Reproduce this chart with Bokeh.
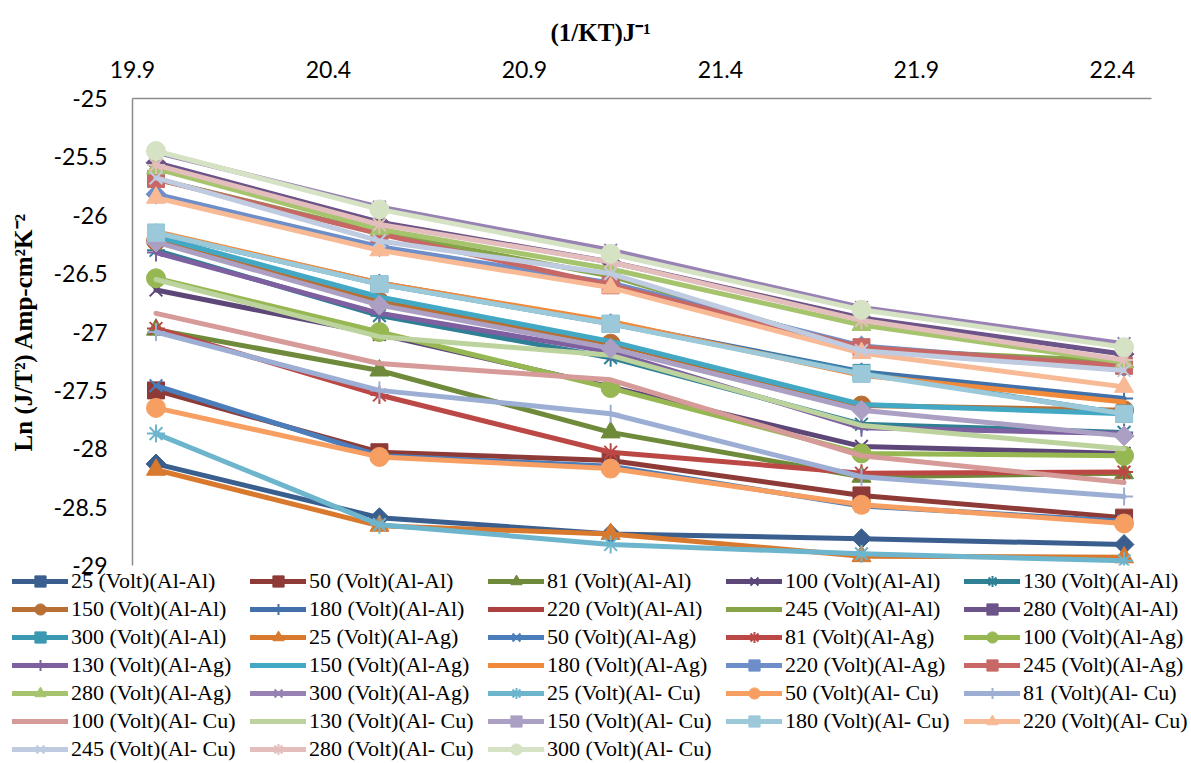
from bokeh.plotting import figure
from bokeh.layouts import column
from bokeh.models import FixedTicker, Legend, LegendItem, Title, Range1d
from bokeh.embed import file_html
from bokeh.resources import INLINE

# ---------------- data ----------------
x_vals = [19.96, 20.53, 21.12, 21.76, 22.43]
x_ticks = [19.9, 20.4, 20.9, 21.4, 21.9, 22.4]
x_tick_labels = ["19.9", "20.4", "20.9", "21.4", "21.9", "22.4"]
y_ticks = [-25.0, -25.5, -26.0, -26.5, -27.0, -27.5, -28.0, -28.5, -29.0]
y_tick_labels = ["-25", "-25.5", "-26", "-26.5", "-27", "-27.5", "-28", "-28.5", "-29"]

al_al_25 = [-28.13, -28.59, -28.73, -28.77, -28.82]
al_al_50 = [-27.50, -28.03, -28.10, -28.40, -28.59]
al_al_81 = [-26.98, -27.33, -27.86, -28.24, -28.21]
al_al_100 = [-26.64, -27.02, -27.47, -27.98, -28.04]
al_al_130 = [-26.30, -26.86, -27.22, -27.79, -27.86]
al_al_150 = [-26.22, -26.74, -27.10, -27.63, -27.67]
al_al_180 = [-26.15, -26.58, -26.92, -27.34, -27.57]
al_al_220 = [-25.83, -26.28, -26.60, -27.15, -27.30]
al_al_245 = [-25.69, -26.15, -26.52, -27.15, -27.25]
al_al_280 = [-25.55, -26.06, -26.40, -26.88, -27.19]
al_al_300 = [-26.15, -26.59, -26.93, -27.35, -27.70]

al_ag_25 = [-28.18, -28.66, -28.73, -28.92, -28.93]
al_ag_50 = [-27.46, -28.06, -28.15, -28.49, -28.62]
al_ag_81 = [-26.97, -27.54, -28.03, -28.21, -28.20]
al_ag_100 = [-26.54, -27.00, -27.48, -28.04, -28.06]
al_ag_130 = [-26.32, -26.84, -27.17, -27.82, -27.87]
al_ag_150 = [-26.18, -26.70, -27.08, -27.62, -27.70]
al_ag_180 = [-26.14, -26.58, -26.91, -27.37, -27.60]
al_ag_220 = [-25.82, -26.27, -26.58, -27.12, -27.30]
al_ag_245 = [-25.69, -26.16, -26.60, -27.13, -27.29]
al_ag_280 = [-25.60, -26.12, -26.46, -26.94, -27.26]
al_ag_300 = [-25.46, -25.93, -26.30, -26.79, -27.10]

al_cu_25 = [-27.87, -28.65, -28.82, -28.90, -28.96]
al_cu_50 = [-27.65, -28.07, -28.17, -28.48, -28.64]
al_cu_81 = [-27.00, -27.50, -27.70, -28.24, -28.41]
al_cu_100 = [-26.84, -27.27, -27.41, -28.06, -28.29]
al_cu_130 = [-26.55, -27.04, -27.20, -27.80, -28.00]
al_cu_150 = [-26.23, -26.77, -27.14, -27.67, -27.89]
al_cu_180 = [-26.15, -26.59, -26.93, -27.36, -27.70]
al_cu_220 = [-25.85, -26.30, -26.62, -27.18, -27.47]
al_cu_245 = [-25.68, -26.22, -26.50, -27.16, -27.33]
al_cu_280 = [-25.57, -26.08, -26.40, -26.90, -27.24]
al_cu_300 = [-25.45, -25.95, -26.33, -26.81, -27.13]

series_names = [
    "25 (Volt)(Al-Al)", "50 (Volt)(Al-Al)", "81 (Volt)(Al-Al)", "100 (Volt)(Al-Al)", "130 (Volt)(Al-Al)",
    "150 (Volt)(Al-Al)", "180 (Volt)(Al-Al)", "220 (Volt)(Al-Al)", "245 (Volt)(Al-Al)", "280 (Volt)(Al-Al)",
    "300 (Volt)(Al-Al)", "25 (Volt)(Al-Ag)", "50 (Volt)(Al-Ag)", "81 (Volt)(Al-Ag)", "100 (Volt)(Al-Ag)",
    "130 (Volt)(Al-Ag)", "150 (Volt)(Al-Ag)", "180 (Volt)(Al-Ag)", "220 (Volt)(Al-Ag)", "245 (Volt)(Al-Ag)",
    "280 (Volt)(Al-Ag)", "300 (Volt)(Al-Ag)", "25 (Volt)(Al- Cu)", "50 (Volt)(Al- Cu)", "81 (Volt)(Al- Cu)",
    "100 (Volt)(Al- Cu)", "130 (Volt)(Al- Cu)", "150 (Volt)(Al- Cu)", "180 (Volt)(Al- Cu)", "220 (Volt)(Al- Cu)",
    "245 (Volt)(Al- Cu)", "280 (Volt)(Al- Cu)", "300 (Volt)(Al- Cu)",
]
series_values = [
    al_al_25, al_al_50, al_al_81, al_al_100, al_al_130, al_al_150, al_al_180, al_al_220, al_al_245,
    al_al_280, al_al_300, al_ag_25, al_ag_50, al_ag_81, al_ag_100, al_ag_130, al_ag_150, al_ag_180,
    al_ag_220, al_ag_245, al_ag_280, al_ag_300, al_cu_25, al_cu_50, al_cu_81, al_cu_100, al_cu_130,
    al_cu_150, al_cu_180, al_cu_220, al_cu_245, al_cu_280, al_cu_300,
]

# ---------------- styles ----------------
colors = [
    "#3A5F8F", "#8E3A37", "#6F8A3A", "#5D4778", "#2F7F95",
    "#B86F34", "#4271AA", "#AB403E", "#86A348", "#6C5389",
    "#3A98B1", "#D8792D", "#4A7DBA", "#BC4846", "#97B752",
    "#7E5FA0", "#43A8C4", "#F08A3A", "#6D8EC8", "#C76866",
    "#A6C46E", "#9882B4", "#6DB5CC", "#F79E62", "#9CAED4",
    "#D69A99", "#BCD39D", "#ABA0C4", "#9CC9D9", "#F8B995",
    "#BFCBE1", "#E4BEBD", "#D5E2C3",
]
marker_cycle = ["diamond", "square", "triangle", "x", "asterisk", "circle", "cross", None, None]
markers = [marker_cycle[i % 9] for i in range(len(series_names))]


def draw_series(fig, xs, ys, col, mk):
    rs = [fig.line(xs, ys, line_color=col, line_width=5, line_join="round", line_cap="round")]
    if mk is not None:
        if mk == "diamond":
            s = fig.scatter(xs, ys, marker="square", angle=0.785398, size=14,
                            fill_color=col, line_color=col, line_width=1)
        elif mk == "square":
            s = fig.scatter(xs, ys, marker="square", size=17, fill_color=col, line_color=col, line_width=1)
        elif mk == "triangle":
            s = fig.scatter(xs, ys, marker="triangle", size=19, fill_color=col, line_color=col, line_width=1)
        elif mk == "circle":
            s = fig.scatter(xs, ys, marker="circle", size=19, fill_color=col, line_color=col, line_width=1)
        else:
            s = fig.scatter(xs, ys, marker=mk, size=18, fill_color=None, line_color=col, line_width=2)
        rs.append(s)
    return rs


# ---------------- main plot ----------------
p = figure(
    width=1191, height=578,
    x_range=Range1d(19.9, 22.5), y_range=Range1d(-29, -25),
    x_axis_location="above",
    output_backend="svg", toolbar_location=None,
    min_border_left=132, min_border_top=98, min_border_right=40, min_border_bottom=13,
)
p.outline_line_color = None
p.xgrid.visible = False
p.ygrid.visible = False
p.background_fill_color = "white"
p.border_fill_color = "white"

for vals, col, mk in zip(series_values, colors, markers):
    draw_series(p, x_vals, vals, col, mk)

xa = p.xaxis[0]
xa.ticker = FixedTicker(ticks=x_ticks)
xa.major_label_overrides = {t: l for t, l in zip(x_ticks, x_tick_labels)}
xa.axis_line_color = "#8C8C8C"
xa.axis_line_width = 1.5
xa.major_tick_line_color = None
xa.minor_tick_line_color = None
xa.major_tick_out = 0
xa.major_label_standoff = 21
xa.major_label_text_font = "Lato"
xa.major_label_text_font_size = "23px"
xa.major_label_text_color = "black"

ya = p.yaxis[0]
ya.ticker = FixedTicker(ticks=y_ticks)
ya.major_label_overrides = {t: l for t, l in zip(y_ticks, y_tick_labels)}
ya.axis_line_color = "#8C8C8C"
ya.axis_line_width = 1.5
ya.major_tick_line_color = None
ya.minor_tick_line_color = None
ya.major_tick_out = 0
ya.major_label_standoff = 25
ya.major_label_text_font = "Lato"
ya.major_label_text_font_size = "23px"
ya.major_label_text_color = "black"
ya.axis_label = "Ln (J/T\u00b2) Amp-cm\u00b2K\u207b\u00b2"
ya.axis_label_text_font = "Liberation Serif"
ya.axis_label_text_font_style = "bold"
ya.axis_label_text_font_size = "25px"
ya.axis_label_text_color = "black"
ya.axis_label_standoff = 14

p.add_layout(Title(text="(1/KT)J\u207b\u00b9", align="left", offset=418, standoff=20,
                   vertical_align="top",
                   text_font="Liberation Serif", text_font_style="bold", text_font_size="25px",
                   text_color="black"), "above")

# ---------------- legend strip below the plot ----------------
# (its series copies lie outside this strip's ranges; only the legend shows)
p2 = figure(
    width=1191, height=199,
    x_range=Range1d(0, 1), y_range=Range1d(0, 1),
    x_axis_type=None, y_axis_type=None,
    output_backend="svg", toolbar_location=None,
    min_border=0, min_border_left=0, min_border_right=0, min_border_top=0, min_border_bottom=0,
    margin=(-14, 0, 0, 0),
)
try:
    p2.frame_align = False
except Exception:
    pass
p2.outline_line_color = None
p2.background_fill_color = None
p2.border_fill_color = None

items = []
for name, vals, col, mk in zip(series_names, series_values, colors, markers):
    rs = draw_series(p2, x_vals, vals, col, mk)
    items.append(LegendItem(label=name, renderers=rs))

legend = Legend(
    items=items, orientation="horizontal", ncols=5,
    location=(12, 0),
    label_text_font="Liberation Serif", label_text_font_size="22px", label_text_color="black",
    glyph_width=56, glyph_height=28, label_height=28, label_width=179, label_standoff=3,
    spacing=0, padding=0, margin=0,
    border_line_color=None, background_fill_alpha=0,
)
p2.add_layout(legend, "center")

layout = column(p, p2, spacing=0)
open("out.html", "w").write(file_html(layout, INLINE))
